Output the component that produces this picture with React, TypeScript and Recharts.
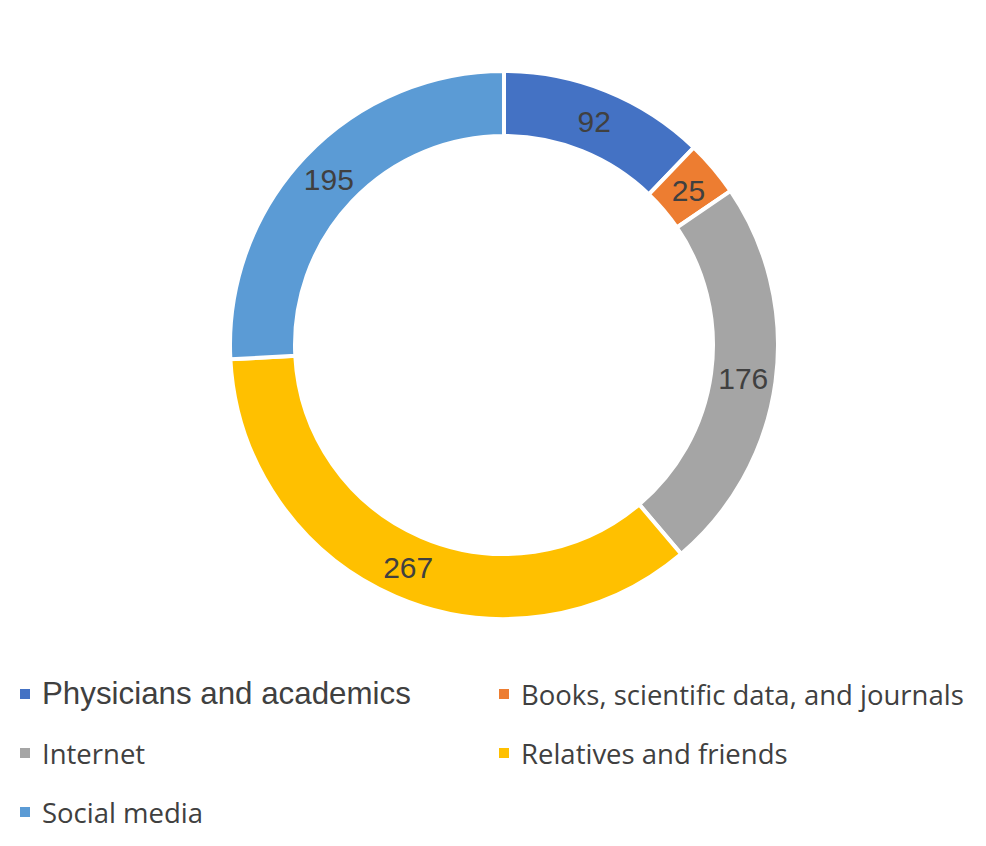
import { PieChart, Pie, Cell, Legend } from "recharts";

const sources = [
  "Physicians and academics",
  "Books, scientific data, and journals",
  "Internet",
  "Relatives and friends",
  "Social media",
];
const counts = [92, 25, 176, 267, 195];
const colors = ["#4472C4", "#ED7D31", "#A5A5A5", "#FFC000", "#5B9BD5"];

const data = sources.map((name, i) => ({ name, value: counts[i] }));

const RADIAN = Math.PI / 180;

const renderLabel = (props: any) => {
  const { cx, cy, midAngle, innerRadius, outerRadius, value } = props;
  const r = (innerRadius + outerRadius) / 2;
  const x = cx + r * Math.cos(-midAngle * RADIAN);
  const y = cy + r * Math.sin(-midAngle * RADIAN);
  return (
    <text
      x={x}
      y={y + 1}
      fill="#404040"
      fontSize={30}
      fontFamily="Liberation Sans, Arial, sans-serif"
      textAnchor="middle"
      dominantBaseline="central"
    >
      {value}
    </text>
  );
};

// first entry is set in Arial in the original, the rest in a Calibri-like face
const LegendBox = () => (
  <div style={{ position: "relative", width: 970, height: 180 }}>
    {sources.map((name, i) => {
      const col = i % 2;
      const row = Math.floor(i / 2);
      const arial = i === 0;
      return (
        <div
          key={name}
          style={{
            position: "absolute",
            left: col === 0 ? 12 : 491,
            top: row * 59,
            display: "flex",
            alignItems: "center",
            height: 36,
            whiteSpace: "nowrap",
          }}
        >
          <span
            style={{
              width: 10,
              height: 10,
              background: colors[i],
              marginRight: 12,
              display: "inline-block",
            }}
          />
          <span
            style={{
              fontFamily: arial
                ? "Liberation Sans, Arial, sans-serif"
                : "Open Sans, sans-serif",
              fontSize: arial ? 31.3 : 27.5,
              color: "#404040",
            }}
          >
            {name}
          </span>
        </div>
      );
    })}
  </div>
);

export default function App() {
  return (
    <PieChart width={970} height={830}>
      <Pie
        data={data}
        dataKey="value"
        nameKey="name"
        cx={491}
        cy={332}
        innerRadius={209}
        outerRadius={274}
        startAngle={90}
        endAngle={-270}
        stroke="#ffffff"
        strokeWidth={4}
        label={renderLabel}
        labelLine={false}
        isAnimationActive={false}
      >
        {data.map((d, i) => (
          <Cell key={d.name} fill={colors[i]} />
        ))}
      </Pie>
      <Legend
        content={<LegendBox />}
        wrapperStyle={{ left: 0, top: 668, width: 970 }}
      />
    </PieChart>
  );
}
